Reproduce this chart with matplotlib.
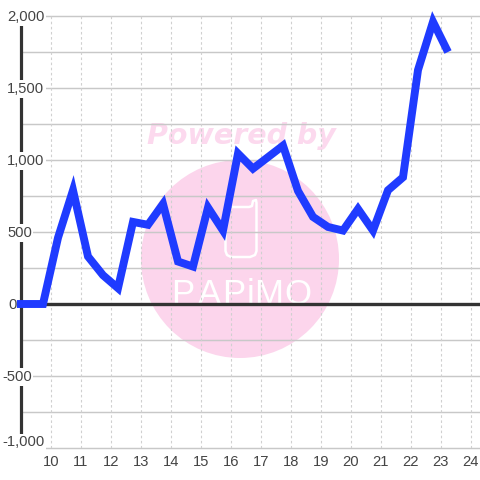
import matplotlib
matplotlib.use('Agg')
import matplotlib.pyplot as plt
from matplotlib.patches import Circle, PathPatch
from matplotlib.path import Path

plt.rcParams['font.family'] = ['Liberation Sans', 'DejaVu Sans']

hours = [8.88, 9.25, 9.75, 10.25, 10.75, 11.25, 11.75, 12.25, 12.75, 13.25, 13.75, 14.25,
         14.75, 15.25, 15.75, 16.25, 16.75, 17.25, 17.75, 18.25, 18.75, 19.25, 19.75,
         20.25, 20.75, 21.25, 21.75, 22.25, 22.75, 23.25]
values = [0, 0, 0, 460, 790, 330, 200, 110, 570, 550, 695, 295,
          260, 670, 510, 1045, 940, 1020, 1100, 785, 605, 535, 510,
          660, 510, 790, 880, 1625, 1960, 1750]
x_ticks = list(range(10, 25))
y_major = [2000, 1500, 1000, 500, 0, -500, -1000]
y_major_labels = ['2,000', '1,500', '1,000', '500', '0', '-500', '-1,000']
y_minor = [1750, 1250, 750, 250, -250, -750]
PX = 1 / 480

fig = plt.figure(figsize=(4.8, 4.8), dpi=100, facecolor='white')
ax = fig.add_axes([20.5 * PX, 32 * PX, 459.5 * PX, 432 * PX], zorder=1)
ax.patch.set_alpha(0)
ax.set_xlim(9, 9 + 459.5 / 30)
ax.set_ylim(-1000, 2000)

# Watermark (below the axes)
pink = '#fcd5ec'
fig.add_artist(Circle((240 * PX, 1 - 259 * PX), 99 * PX, transform=fig.transFigure,
                      fc=pink, ec='none', zorder=-3))
fig.text(241.5 * PX, 1 - 136 * PX, 'Powered by', color='#fcd9ee', fontsize=20.5,
         fontweight='bold', fontstyle='italic', ha='center', va='center', zorder=-2,
         family='DejaVu Sans')
letters = ['P', 'A', 'P', 'i', 'M', 'O']
letter_px = [183, 209, 234, 250, 269, 298]
for ch, xp in zip(letters, letter_px):
    fig.text(xp * PX, 1 - 304 * PX, ch, color='white', fontsize=25, ha='center', va='baseline',
             family=['Liberation Sans Narrow', 'Liberation Sans'], zorder=-2)
phone_px = [(232, 207), (249, 207), (252, 206), (253, 201), (256, 200), (256.5, 203), (256.5, 251),
            (255, 255), (250, 257), (231, 257), (227, 255), (225.5, 251), (225.5, 214), (227, 209), (232, 207)]
phone = Path([(a * PX, 1 - b * PX) for a, b in phone_px])
fig.add_artist(PathPatch(phone, fc='none', ec='white', lw=1.8, transform=fig.transFigure,
                         zorder=-2, joinstyle='round'))

# Grid
grid = '#c8c8c8'
for v in y_major + y_minor:
    ax.axhline(v, color=grid, lw=1.05, zorder=1, clip_on=False)
for t in x_ticks:
    ax.axvline(t, color='#d0d0d0', lw=0.8, ls=(0, (2.3, 2.3)), zorder=1)
ax.axhline(0, color='#333333', lw=2.4, zorder=2)

for s in ['top', 'right', 'bottom']:
    ax.spines[s].set_visible(False)
ax.spines['left'].set_color('#333333')
ax.spines['left'].set_linewidth(2.3)
ax.spines['left'].set_zorder(2)
ax.set_xticks([])
ax.set_yticks([])

ax.plot(hours, values, color='#1f3bff', lw=5.7, solid_joinstyle='miter',
        solid_capstyle='butt', zorder=3, clip_on=False)

# Tick labels with white backing boxes
tc = '#444444'
for v, lab in zip(y_major, y_major_labels):
    dy = 5.5 if v == -1000 else -1.0
    left = 2 if v < 0 else (8 if v == 0 else 7)
    t = ax.annotate(lab, xy=(0, v), xycoords=ax.get_yaxis_transform(),
                    xytext=((left - 20.5) * 0.72, dy * 0.72), textcoords='offset points',
                    ha='left', va='center', fontsize=10.6, color=tc, zorder=2.5,
                    annotation_clip=False)
    if v != 0:
        t.set_bbox(dict(fc='white', ec='none', pad=1.2))
for t in x_ticks:
    ax.annotate(str(t), xy=(t, 0), xycoords=ax.get_xaxis_transform(),
                xytext=(0.3, -13.5 * 0.72), textcoords='offset points',
                ha='center', va='center', fontsize=10.6, color=tc, annotation_clip=False)

fig.savefig('out.png', dpi=100)
